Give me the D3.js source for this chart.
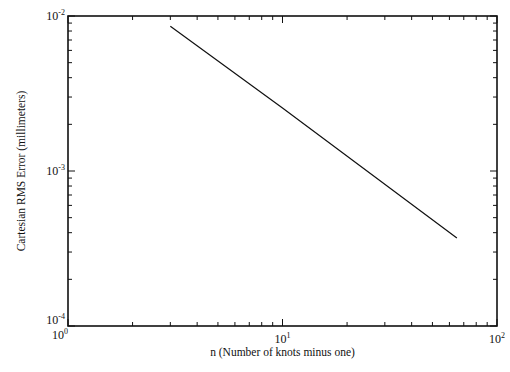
<!DOCTYPE html>
<html>
<head>
	<meta charset="utf-8">
	<script src="https://cdnjs.cloudflare.com/ajax/libs/d3/7.8.5/d3.min.js"></script>
	<style>
		body, html { margin: 0; background: #fff; overflow: hidden; }
		text { font-family: "Liberation Serif", "Times New Roman", serif; fill: #111; }
		.frame { fill: none; stroke: #111; stroke-width: 1.6; }
		.curve { fill: none; stroke: #111; stroke-width: 1.2; }
	</style>
</head>
<body>
<div id="chart"></div>
<script>
	// data
	var knots = [3, 10, 65];
	var rmsError = [8.6e-3, 2.55e-3, 3.7e-4];
	var xDecades = [0, 1, 2];
	var yDecades = [-2, -3, -4];

	var w = 510, h = 372;
	// plot frame (note: "top" is reserved on window, so use other names)
	var pLeft = 68, pTop = 16, pRight = 497, pBottom = 326;

	var svg = d3.select("#chart").append("svg")
		.attr("width", w)
		.attr("height", h);

	var x = d3.scaleLog().domain([1, 100]).range([pLeft, pRight]);
	var y = d3.scaleLog().domain([1e-4, 1e-2]).range([pBottom, pTop]);

	// minor + major tick values
	function logTicks(lo, hi) {
		var t = [];
		for (var e = lo; e < hi; e++) {
			for (var m = 1; m < 10; m++) t.push(m * Math.pow(10, e));
		}
		t.push(Math.pow(10, hi));
		return t;
	}
	var xt = logTicks(0, 2), yt = logTicks(-4, -2);
	function isMajor(v) { var l = Math.log10(v); return Math.abs(l - Math.round(l)) < 1e-9; }

	// ticks on all four sides, pointing inward
	var g = svg.append("g").attr("stroke", "#111").attr("stroke-width", 1);
	xt.forEach(function (v) {
		var len = isMajor(v) ? 7 : 4;
		g.append("line").attr("x1", x(v)).attr("x2", x(v))
			.attr("y1", pBottom).attr("y2", pBottom - len);
		g.append("line").attr("x1", x(v)).attr("x2", x(v))
			.attr("y1", pTop).attr("y2", pTop + len);
	});
	yt.forEach(function (v) {
		var len = isMajor(v) ? 7 : 4;
		g.append("line").attr("x1", pLeft).attr("x2", pLeft + len)
			.attr("y1", y(v)).attr("y2", y(v));
		g.append("line").attr("x1", pRight).attr("x2", pRight - len)
			.attr("y1", y(v)).attr("y2", y(v));
	});

	svg.append("rect").attr("class", "frame")
		.attr("x", pLeft).attr("y", pTop)
		.attr("width", pRight - pLeft).attr("height", pBottom - pTop);

	// power-of-ten labels
	function powLabel(sel, exp) {
		sel.append("tspan").text("10");
		sel.append("tspan").attr("dy", -5).attr("font-size", 8).text(exp < 0 ? "-" + (-exp) : exp);
	}
	yDecades.forEach(function (e) {
		var t = svg.append("text")
			.attr("x", pLeft - 3)
			.attr("y", e == -4 ? pBottom - 2 : y(Math.pow(10, e)) + 4)
			.attr("text-anchor", "end")
			.attr("font-size", 12);
		powLabel(t, e);
	});
	xDecades.forEach(function (e) {
		var t = svg.append("text")
			.attr("x", x(Math.pow(10, e)) + (e == 0 ? -8 : 0))
			.attr("y", pBottom + (e == 0 ? 13 : 17))
			.attr("text-anchor", "middle")
			.attr("font-size", 12);
		powLabel(t, e);
	});

	// the error curve
	var line = d3.line()
		.x(function (d, i) { return x(knots[i]); })
		.y(function (d) { return y(d); });
	svg.append("path").attr("class", "curve").attr("d", line(rmsError));

	// axis titles
	svg.append("text")
		.attr("x", (pLeft + pRight) / 2)
		.attr("y", 356)
		.attr("text-anchor", "middle")
		.attr("font-size", 11.5)
		.text("n (Number of knots minus one)");
	svg.append("text")
		.attr("transform", "translate(25," + (pTop + pBottom) / 2 + ") rotate(-90)")
		.attr("text-anchor", "middle")
		.attr("font-size", 11.5)
		.text("Cartesian RMS Error (millimeters)");
</script>
</body>
</html>
